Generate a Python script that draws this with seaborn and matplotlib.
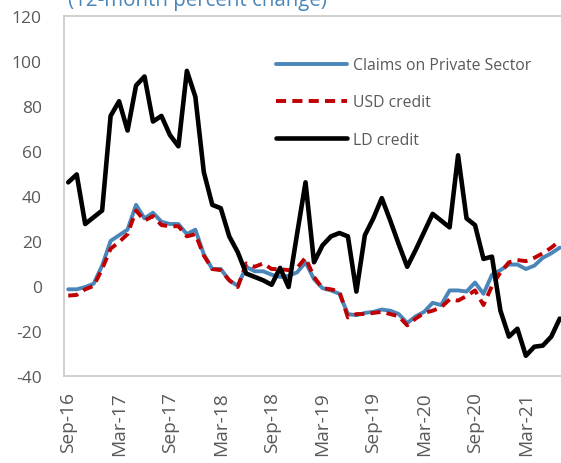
import matplotlib
matplotlib.use("Agg")
import matplotlib.pyplot as plt
import seaborn as sns
import pandas as pd
import numpy as np

# Monthly observations, Sep-16 .. Jul-21 (12-month percent change)
months = pd.date_range("2016-09-01", periods=59, freq="MS").strftime("%b-%y").tolist()

claims_private = [-1.5, -1.5, -0.5, 1, 9, 20, 22.5, 25, 36, 30,
                  32.5, 28.5, 27.5, 27.5, 23, 25, 14, 7.5, 7.5, 2.5,
                  0, 8.5, 6.5, 6.5, 5, 4, 4.5, 6, 10.5, 3,
                  -1, -2, -3.5, -12.5, -13, -12, -11.5, -10.5, -11, -12.5,
                  -16.5, -13.5, -11.5, -7.5, -8.5, -2, -2, -2.5, 1.5, -3.5,
                  5, 7, 9.5, 9.5, 7.5, 9, 12.5, 14.5, 17]
usd_credit = [-4.3, -4, -1.5, 0, 7.5, 16.5, 19.5, 23, 33.5, 29,
              31, 27, 26.5, 26.5, 22, 23, 13.5, 7.5, 7, 2.5,
              -0.5, 10, 8.5, 10, 7.5, 7.5, 7, 8, 12.5, 4,
              -1, -1.5, -2.5, -14, -12.5, -12.5, -12, -11.5, -12.5, -13.5,
              -17.5, -14.5, -12, -11, -9.5, -6, -6.5, -4.5, -2, -8.5,
              0, 6, 10.5, 11.5, 11, 12.5, 14.5, 17, 20]
ld_credit = [46, 49.5, 27.5, 30.5, 33.5, 75.5, 82, 69, 89, 93,
             73, 75.5, 67, 62, 95.5, 84, 50.5, 36, 34.5, 22,
             15, 5.5, 4, 2.5, 0.5, 8, -0.5, 23, 46, 10.5,
             18, 22, 23.5, 22, -2.5, 22.5, 30, 39, 29, 18.5,
             8.5, 16, 24, 32, 29, 26, 58, 30, 27, 12,
             13, -11, -22.5, -19, -31, -27, -26.5, -22.5, -14.5]

series_names = ["Claims on Private Sector", "USD credit", "LD credit"]
y_ticks = [-40, -20, 0, 20, 40, 60, 80, 100, 120]
title_text = "(12-month percent change)"

df = pd.DataFrame({"month": months, "idx": np.arange(len(months)),
                   series_names[0]: claims_private,
                   series_names[1]: usd_credit,
                   series_names[2]: ld_credit})

sns.set_style("white")
plt.rcParams["font.family"] = ["Open Sans", "DejaVu Sans"]

W, H = 561, 464
fig = plt.figure(figsize=(W / 100, H / 100), dpi=100)
left_px, right_px, top_px, bottom_px = 64, 564, 16.7, 377
ax = fig.add_axes([left_px / W, 1 - bottom_px / H,
                   (right_px - left_px) / W, (bottom_px - top_px) / H])

colors = ["#4A86B9", "#C00000", "#000000"]
sns.lineplot(data=df, x="idx", y=series_names[0], ax=ax, color=colors[0],
             linewidth=2.8, label=series_names[0])
sns.lineplot(data=df, x="idx", y=series_names[1], ax=ax, color=colors[1],
             linewidth=2.8, label=series_names[1], dashes=False)
ax.lines[-1].set_dashes([2.6, 1.6])
sns.lineplot(data=df, x="idx", y=series_names[2], ax=ax, color=colors[2],
             linewidth=3.3, label=series_names[2])

ax.set_xlim(-0.5, len(months) - 0.5)
ax.set_ylim(-40, 120)
ax.set_yticks(y_ticks)
ax.set_yticklabels([str(v) for v in y_ticks])
ax.set_xticks(np.arange(0, len(months), 6))
ax.set_xticklabels([months[i] for i in range(0, len(months), 6)], rotation=90)
ax.set_xlabel("")
ax.set_ylabel("")

ax.tick_params(axis="y", direction="in", length=5, width=1, color="#BFBFBF",
               labelsize=12.5, labelcolor="#595959", pad=16)
ax.tick_params(axis="x", length=0, labelsize=13.8, labelcolor="#595959", pad=11)

for side in ["left", "bottom", "top", "right"]:
    ax.spines[side].set_visible(True)
    ax.spines[side].set_color("#C8C8C8")
    ax.spines[side].set_linewidth(1.2)

leg = ax.legend(loc="upper left",
                bbox_to_anchor=((270 - left_px) / (right_px - left_px),
                                1 - (52 - top_px) / (bottom_px - top_px)),
                frameon=False, fontsize=11.3, handlelength=4.5, labelspacing=1.35,
                handletextpad=0.4, borderaxespad=0)
for t in leg.get_texts():
    t.set_color("#595959")

fig.text(68 / W, 1 - 6 / H, title_text, color="#4A86B9", fontsize=14.8,
         ha="left", va="baseline")

fig.savefig("out.png", dpi=100)
